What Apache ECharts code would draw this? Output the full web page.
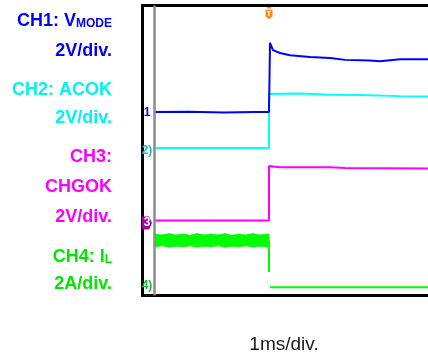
<!DOCTYPE html>
<html>
<head>
<meta charset="utf-8">
<script src="https://cdn.jsdelivr.net/npm/echarts@6/dist/echarts.min.js"></script>
<style>
  html, body { margin: 0; padding: 0; background: #fff; }
  #chart { width: 428px; height: 352px; }
</style>
</head>
<body>
<div id="chart"></div>
<script>
// ---- data (time in ms relative to trigger, level in screen divisions) ----
const ch1Time   = [-2.3, -1.6, -0.9, -0.3, 0, 0.02, 0.08, 0.22, 0.42, 0.82, 1.22, 1.52, 2.02, 2.22, 2.62, 3.18, 3.58];
const ch1Values = [5.06, 5.07, 5.05, 5.06, 5.06, 6.97, 6.77, 6.69, 6.63, 6.58, 6.55, 6.50, 6.48, 6.46, 6.52, 6.52, 6.52];

const ch2Time   = [-2.3, -1.2, 0, 0, 0.04, 0.62, 1.22, 1.82, 2.62, 3.18, 3.58];
const ch2Values = [4.07, 4.07, 4.07, 5.56, 5.56, 5.57, 5.54, 5.53, 5.50, 5.49, 5.49];

const ch3Time   = [-2.3, -1.2, 0, 0, 0.04, 0.22, 1.22, 1.52, 3.18, 3.58];
const ch3Values = [2.07, 2.07, 2.07, 3.57, 3.57, 3.54, 3.54, 3.52, 3.50, 3.50];

// CH4 inductor current: switching ripple band before the step
const ch4BandTime  = [-2.28, -2.14, -2.0, -1.86, -1.72, -1.58, -1.44, -1.3, -1.16, -1.02, -0.88, -0.74, -0.6, -0.46, -0.32, -0.18, -0.04, 0.0];
const ch4BandUpper = [1.70, 1.67, 1.71, 1.67, 1.70, 1.66, 1.71, 1.67, 1.70, 1.67, 1.71, 1.66, 1.70, 1.67, 1.71, 1.67, 1.70, 1.69];
const ch4BandLower = [1.34, 1.37, 1.33, 1.36, 1.34, 1.37, 1.33, 1.36, 1.34, 1.37, 1.33, 1.36, 1.34, 1.37, 1.33, 1.36, 1.34, 1.35];
// CH4 after the step
const ch4Time   = [0, 0, 0.01, 0.02, 1.5, 3.18, 3.58];
const ch4Values = [1.52, 0.65, null, 0.23, 0.23, 0.23, 0.23];

// channel ground reference markers
const channelNames  = ['1', '2', '3', '4'];
const channelRefs   = [5.05, 3.99, 2.0, 0.26];
const triggerTime   = 0;
const triggerLevel  = 7.79;
const timeCursor    = -2.3;

const channelLabels = [
  { text: '{a|CH1: V}{b|MODE}', color: '#0000ff' },
  { text: '{a|2V/div.}', color: '#0000ff' },
  { text: '{a|CH2: ACOK}', color: '#00f2f2' },
  { text: '{a|2V/div.}', color: '#00f2f2' },
  { text: '{a|CH3:}', color: '#ff00ff' },
  { text: '{a|CHGOK}', color: '#ff00ff' },
  { text: '{a|2V/div.}', color: '#ff00ff' },
  { text: '{a|CH4: I}{b|L}', color: '#00e800' },
  { text: '{a|2A/div.}', color: '#00e800' }
];
const timebaseLabel = '1ms/div.';

// ---- chart ----
const COLORS = ['#0000ff', '#00ffff', '#ff00ff', '#00ff00'];
const MARKER_T = -2.44;
const FONT = "'Liberation Sans', Arial, Helvetica, sans-serif";
const zip = (t, v) => t.map((x, i) => [x, v[i]]);

function refMarker(i) {
  const isSel = i === 2;
  return {
    silent: true,
    symbol: isSel ? 'path://M0,0 L7,0 L10,5 L7,10 L0,10 Z' : 'rect',
    symbolSize: isSel ? [10, 13] : [1, 1],
    itemStyle: { color: isSel ? '#a000a0' : 'rgba(0,0,0,0)' },
    label: {
      show: true, position: 'inside',
      formatter: i === 0 ? '1' : channelNames[i] + (isSel ? '' : ')'),
      color: isSel ? '#ffffff' : (i === 1 ? '#20b8c8' : (i === 3 ? '#20b040' : '#0000ff')),
      fontSize: 12, fontWeight: 'bold', fontFamily: FONT
    },
    data: [{ coord: [MARKER_T, channelRefs[i]] }],
    animation: false
  };
}

const chart = echarts.init(document.getElementById('chart'), null, { renderer: 'canvas' });

const graphics = [];
const rowY = [20, 50, 89, 117, 156, 186, 216, 256, 283];
channelLabels.forEach((l, i) => {
  graphics.push({
    type: 'text', x: 112, y: rowY[i] + 1,
    style: {
      text: l.text, align: 'right', verticalAlign: 'middle',
      rich: {
        a: { fontSize: 18, fontWeight: 'bold', fontFamily: FONT, fill: l.color, color: l.color, lineHeight: 18 },
        b: { fontSize: 12, fontWeight: 'bold', fontFamily: FONT, fill: l.color, color: l.color, lineHeight: 13, verticalAlign: 'bottom' }
      }
    }
  });
});
graphics.push({
  type: 'text', x: 284, y: 345,
  style: { text: timebaseLabel, align: 'center', verticalAlign: 'middle', fontSize: 19, fontFamily: FONT, fill: '#1a1a1a' }
});

const option = {
  animation: false,
  backgroundColor: '#ffffff',
  grid: {
    left: 142.5, top: 5.5, width: 305.5, height: 290,
    outerBoundsMode: 'none', containLabel: false,
    show: true, borderColor: '#000', borderWidth: 3, backgroundColor: 'transparent'
  },
  xAxis: { type: 'value', min: -2.53, max: 3.58, show: false },
  yAxis: { type: 'value', min: 0, max: 8, show: false },
  graphic: graphics,
  series: [
    {
      name: 'CH4 band', type: 'custom', silent: true,
      data: [[0, 0]],
      renderItem: function (params, api) {
        const pts = [];
        for (let i = 0; i < ch4BandTime.length; i++) pts.push(api.coord([ch4BandTime[i], ch4BandUpper[i]]));
        for (let i = ch4BandTime.length - 1; i >= 0; i--) pts.push(api.coord([ch4BandTime[i], ch4BandLower[i]]));
        return { type: 'polygon', shape: { points: pts }, style: { fill: '#00ff00', stroke: '#00e600', lineWidth: 0.6 } };
      },
      z: 2
    },
    {
      name: 'CH4', type: 'line', data: zip(ch4Time, ch4Values), showSymbol: false, connectNulls: false,
      lineStyle: { color: COLORS[3], width: 2 }, itemStyle: { color: COLORS[3] }, z: 3,
      markPoint: refMarker(3)
    },
    {
      name: 'CH3', type: 'line', data: zip(ch3Time, ch3Values), showSymbol: false,
      lineStyle: { color: COLORS[2], width: 2 }, itemStyle: { color: COLORS[2] }, z: 3,
      markPoint: refMarker(2)
    },
    {
      name: 'CH2', type: 'line', data: zip(ch2Time, ch2Values), showSymbol: false,
      lineStyle: { color: COLORS[1], width: 2 }, itemStyle: { color: COLORS[1] }, z: 3,
      markPoint: refMarker(1)
    },
    {
      name: 'CH1', type: 'line', data: zip(ch1Time, ch1Values), showSymbol: false,
      lineStyle: { color: COLORS[0], width: 2 }, itemStyle: { color: COLORS[0] }, z: 4,
      markPoint: refMarker(0),
      markLine: {
        silent: true, symbol: 'none', label: { show: false },
        lineStyle: { color: '#8c8c8c', width: 2.5, type: 'solid' },
        data: [{ xAxis: timeCursor }], animation: false
      }
    },
    {
      name: 'Trigger', type: 'line', data: [], showSymbol: false,
      markPoint: {
        silent: true,
        symbol: 'path://M2,0 L8,0 L8,1.5 L2,1.5 Z M0,3 L10,3 L10,11 L5,14 L0,11 Z',
        symbolSize: [7, 12],
        itemStyle: { color: '#ff8a1c' },
        label: { show: true, formatter: 'T', color: '#ffffff', fontSize: 7, fontWeight: 'bold', fontFamily: FONT, offset: [0, 1] },
        data: [{ coord: [triggerTime, triggerLevel] }]
      }
    }
  ]
};
chart.setOption(option);
</script>
</body>
</html>
